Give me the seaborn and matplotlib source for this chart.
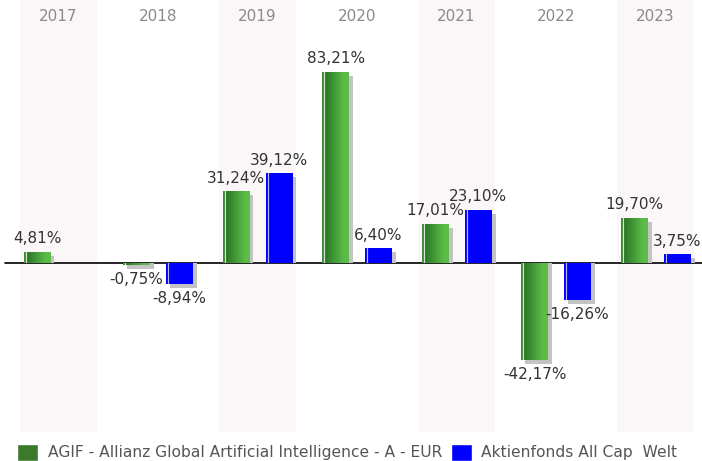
import numpy as np
import pandas as pd
import matplotlib
matplotlib.use('Agg')
import matplotlib.pyplot as plt
from matplotlib.colors import to_rgb
from matplotlib.patches import Patch, Rectangle
from matplotlib.transforms import blended_transform_factory
import seaborn as sns

# Chart data
years = ['2017', '2018', '2019', '2020', '2021', '2022', '2023']
fund_name = 'AGIF - Allianz Global Artificial Intelligence - A - EUR'
bench_name = 'Aktienfonds All Cap  Welt'
fund_values = [4.81, -0.75, 31.24, 83.21, 17.01, -42.17, 19.70]
bench_values = [np.nan, -8.94, 39.12, 6.40, 23.10, -16.26, 3.75]

df = pd.DataFrame({
    'year': years * 2,
    'series': [fund_name] * len(years) + [bench_name] * len(years),
    'value': fund_values + bench_values,
}).dropna()

sns.set_style('white')
plt.rcParams['font.family'] = ['DejaVu Sans']

fig = plt.figure(figsize=(7.02, 4.61), dpi=100)
ax = fig.add_axes([0, 29 / 461, 1, 432 / 461])

# alternating shaded year bands
for i in range(0, len(years), 2):
    ax.axvspan(i - 0.387, i + 0.387, color='#fbf6f7', zorder=0, lw=0)

ax.axhline(0, xmin=5 / 702, xmax=1, color='black', lw=1.2, zorder=1)

green = '#3b7a2c'
blue = '#0000ff'
sns.barplot(data=df, x='year', y='value', hue='series', order=years,
            hue_order=[fund_name, bench_name], palette=[green, blue],
            saturation=1, width=0.864, gap=0.375, errorbar=None, legend=False,
            ax=ax, zorder=2, linewidth=0)

xlim = (-0.588, 6.466)
ylim = (-73.6, 114.6)
ax.set_xlim(*xlim)
ax.set_ylim(*ylim)
# 4px shadow offset in data units
dx = 4 * (xlim[1] - xlim[0]) / 702
dy = 4 * (ylim[1] - ylim[0]) / 432


def bar_colors(kind, n=54):
    cols = []
    if kind == 'green':
        c0, c1 = np.array(to_rgb('#2c7626')), np.array(to_rgb('#5bbd47'))
        for j in range(n):
            if j < 4:
                cols.append(to_rgb('#3d8c33'))
            elif j < 6:
                cols.append(to_rgb('#f2f7f0'))
            else:
                t = min(1.0, (j - 6) / (n - 7) * 1.25)
                cols.append(tuple(c0 + (c1 - c0) * t))
    else:
        for j in range(n):
            cols.append(to_rgb('#d8d8ff') if 4 <= j < 6 else to_rgb(blue))
    return np.array([cols])


for kind, container in zip(['green', 'blue'], ax.containers):
    for bar in container:
        h = bar.get_height()
        if np.isnan(h):
            continue
        x0 = bar.get_x()
        w = bar.get_width()
        # grey drop shadow, right and below, never under the zero line for gains
        ax.add_patch(Rectangle((x0 + dx, 0), w, h - dy, facecolor='#c3c3c3', lw=0, zorder=1.5))
        img = ax.imshow(bar_colors(kind), extent=[x0, x0 + w, min(0, h), max(0, h)],
                        aspect='auto', interpolation='antialiased', zorder=3)
        img.set_clip_path(bar)
        label = f'{h:.2f}'.replace('.', ',') + '%'
        if h >= 0:
            ax.annotate(label, (x0 + w / 2, h), xytext=(0, 4), textcoords='offset points',
                        ha='center', va='bottom', fontsize=11, color='#333333', zorder=5)
        else:
            ax.annotate(label, (x0 + w / 2, h), xytext=(0, -5), textcoords='offset points',
                        ha='center', va='top', fontsize=11, color='#333333', zorder=5)

trans = blended_transform_factory(ax.transData, ax.transAxes)
for i, y in enumerate(years):
    ax.text(i, 0.962, y, transform=trans, ha='center', va='center',
            fontsize=11, color='#8a8a8a')

ax.set_xlim(*xlim)
ax.set_ylim(*ylim)
ax.set_axis_off()

handles = [Patch(facecolor=green, label=fund_name), Patch(facecolor=blue, label=bench_name)]
fig.legend(handles=handles, loc='lower left', bbox_to_anchor=(17 / 702, 0.0),
           ncol=2, frameon=False, fontsize=11.2, labelcolor='#555555',
           handlelength=1.35, handleheight=1.35, handletextpad=0.62,
           columnspacing=0.55, borderpad=0, borderaxespad=0)

fig.savefig('out.png', dpi=100)
